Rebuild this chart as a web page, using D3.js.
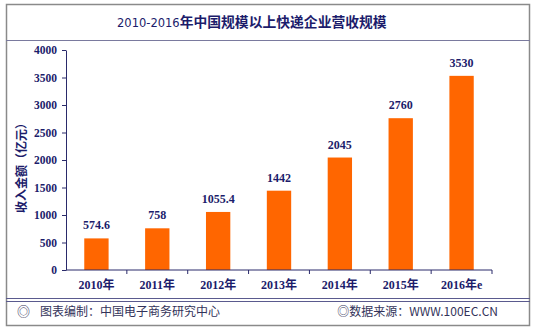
<!DOCTYPE html>
<html><head><meta charset="utf-8">
<script src="https://cdn.jsdelivr.net/npm/d3@7"></script>
<style>body{margin:0;background:#fff}svg{display:block}</style>
</head><body>
<svg id="c" width="537" height="332"></svg>
<script>
const categories = ["2010年","2011年","2012年","2013年","2014年","2015年","2016年e"];
const values = [574.6, 758, 1055.4, 1442, 2045, 2760, 3530];
const valueLabels = ["574.6","758","1055.4","1442","2045","2760","3530"];
const yTicks = [0,500,1000,1500,2000,2500,3000,3500,4000];
const titleA = "2010-2016";
const titleB = "年中国规模以上快递企业营收规模";
const yTitle = "收入金额（亿元）";
const footLeftMark = "◎";
const footLeft = "图表编制：中国电子商务研究中心";
const footRight = "◎数据来源：WWW.100EC.CN";

const svg = d3.select("#c");
const navy = "#1c1c6b";
const numFont = "'Liberation Serif','Noto Sans CJK SC',serif";
const cjk = "'Noto Sans CJK SC',sans-serif";

// frame
svg.append("rect").attr("x",6.5).attr("y",4.5).attr("width",523).attr("height",321)
  .attr("fill","#fff").attr("stroke","#8a8a8a").attr("stroke-width",1.5);
svg.append("line").attr("x1",6).attr("x2",530).attr("y1",40.5).attr("y2",40.5).attr("stroke","#7a7a9e");
svg.append("line").attr("x1",6).attr("x2",530).attr("y1",298.5).attr("y2",298.5).attr("stroke","#5a5a8e");
svg.append("line").attr("x1",6).attr("x2",530).attr("y1",301.5).attr("y2",301.5).attr("stroke","#5a5a8e");

// title
const t = svg.append("text").attr("x",117).attr("y",27).attr("fill",navy).attr("font-size",14);
t.append("tspan").attr("font-family","'DejaVu Sans',sans-serif").attr("font-size",11.5).text(titleA);
t.append("tspan").attr("font-family",cjk).attr("font-weight","bold").attr("font-size",13.8).text(titleB);

const x = d3.scaleBand().domain(categories).range([66,492]).paddingInner(0.6).paddingOuter(0.3);
const y = d3.scaleLinear().domain([0,4000]).range([270,50]);

// bars
svg.append("g").selectAll("rect").data(values).join("rect")
  .attr("x",(d,i)=>x(categories[i])).attr("width",x.bandwidth())
  .attr("y",d=>y(d)).attr("height",d=>y(0)-y(d)).attr("fill","#ff6600");

svg.append("g").selectAll("text").data(values).join("text")
  .attr("x",(d,i)=>x(categories[i])+x.bandwidth()/2).attr("y",d=>y(d)-9)
  .attr("text-anchor","middle").attr("fill",navy).attr("font-family",numFont)
  .attr("font-weight","bold").attr("font-size",12).text((d,i)=>valueLabels[i]);

// y axis
const ya = svg.append("g").attr("transform","translate(66,0)")
  .call(d3.axisLeft(y).tickValues(yTicks).tickFormat(d3.format("d")).tickSize(4).tickSizeOuter(0).tickPadding(5));
ya.selectAll("path,line").attr("stroke","#2a2a6a");
ya.selectAll("text").attr("fill",navy).attr("font-family",numFont).attr("font-weight","bold").attr("font-size",11.5);

// x axis
const xa = svg.append("g").attr("transform","translate(0,270)");
xa.append("line").attr("x1",66).attr("x2",492).attr("stroke","#2a2a6a");
const bounds = categories.map((c,i)=>x(c) - x.step()*x.paddingInner()/2 + x.step());
xa.selectAll("line.tk").data(bounds).join("line").attr("class","tk")
  .attr("x1",d=>d).attr("x2",d=>d).attr("y1",0).attr("y2",4).attr("stroke","#2a2a6a");
xa.selectAll("text").data(categories).join("text")
  .attr("x",d=>x(d)+x.bandwidth()/2).attr("y",19).attr("text-anchor","middle")
  .attr("fill",navy).attr("font-family",numFont).attr("font-weight","bold").attr("font-size",12).text(d=>d);

// y title
svg.append("text").attr("transform","translate(26,165) rotate(-90)").attr("text-anchor","middle")
  .attr("fill",navy).attr("font-family",cjk).attr("font-weight","bold").attr("font-size",12).text(yTitle);

// footer
svg.append("text").attr("x",17).attr("y",316).attr("fill","#33335a").attr("font-family",cjk).attr("font-size",13).text(footLeftMark);
svg.append("text").attr("x",40).attr("y",316).attr("fill","#33335a").attr("font-family",cjk).attr("font-size",12).text(footLeft);
svg.append("text").attr("x",498).attr("y",316).attr("text-anchor","end").attr("fill","#33335a").attr("font-family",cjk).attr("font-size",12).text(footRight);
</script>
</body></html>
